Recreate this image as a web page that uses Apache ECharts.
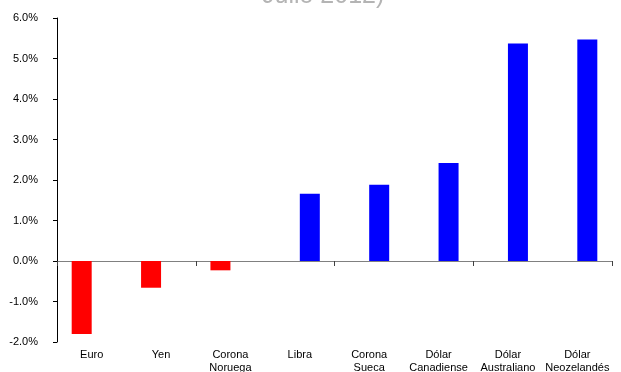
<!DOCTYPE html>
<html><head><meta charset="utf-8">
<script src="https://cdn.jsdelivr.net/npm/echarts@6/dist/echarts.min.js"></script>
<style>html,body{margin:0;padding:0;background:#fff}#c{width:621px;height:372px}</style>
</head><body><div id="c"></div>
<script>
var categories = ['Euro', 'Yen', 'Corona\nNoruega', 'Libra', 'Corona\nSueca', 'Dólar\nCanadiense', 'Dólar\nAustraliano', 'Dólar\nNeozelandés'];
var negativeValues = [-1.80, -0.66, -0.23, null, null, null, null, null];
var positiveValues = [null, null, null, 1.66, 1.88, 2.42, 5.37, 5.47];
var yTicks = { min: -2, max: 6, interval: 1 };
var titleText = 'Julio 2012)';

var chart = echarts.init(document.getElementById('c'), null, { renderer: 'canvas' });
chart.setOption({
  animation: false,
  title: {
    text: titleText, left: 257, top: -21,
    textStyle: { fontFamily: 'Liberation Sans', fontSize: 25, fontWeight: 'normal', color: '#b4b4b4' }
  },
  grid: { left: 57, right: 9, top: 18, bottom: 30, containLabel: false, outerBoundsMode: 'none' },
  xAxis: [{
    type: 'category', data: categories, position: 'bottom',
    axisLine: { show: false, onZero: false }, axisTick: { show: false },
    axisLabel: { interval: 0, margin: 6, fontFamily: 'Liberation Sans', fontSize: 11, color: '#000', lineHeight: 13, verticalAlign: 'top' }
  }, {
    type: 'category', data: categories, position: 'top',
    axisLine: { show: true, onZero: true, lineStyle: { color: '#808080', width: 1 } },
    axisTick: { show: true, inside: true, length: 5, lineStyle: { color: '#404040' } },
    axisLabel: { show: false }
  }],
  yAxis: {
    type: 'value', min: yTicks.min, max: yTicks.max, interval: yTicks.interval,
    axisLine: { show: true, lineStyle: { color: '#000', width: 1 } },
    axisTick: { show: true, length: 4, lineStyle: { color: '#000' } },
    splitLine: { show: false },
    axisLabel: { margin: 19, fontFamily: 'Liberation Sans', fontSize: 11, color: '#000',
      formatter: function (v) { return v.toFixed(1) + '%'; } }
  },
  series: [{
    type: 'bar', xAxisIndex: 0, data: negativeValues, barWidth: 20, barGap: '0%',
    itemStyle: { color: '#ff0000' }
  }, {
    type: 'bar', xAxisIndex: 0, data: positiveValues, barWidth: 20, barGap: '0%',
    itemStyle: { color: '#0000ff' }
  }]
});
</script></body></html>
